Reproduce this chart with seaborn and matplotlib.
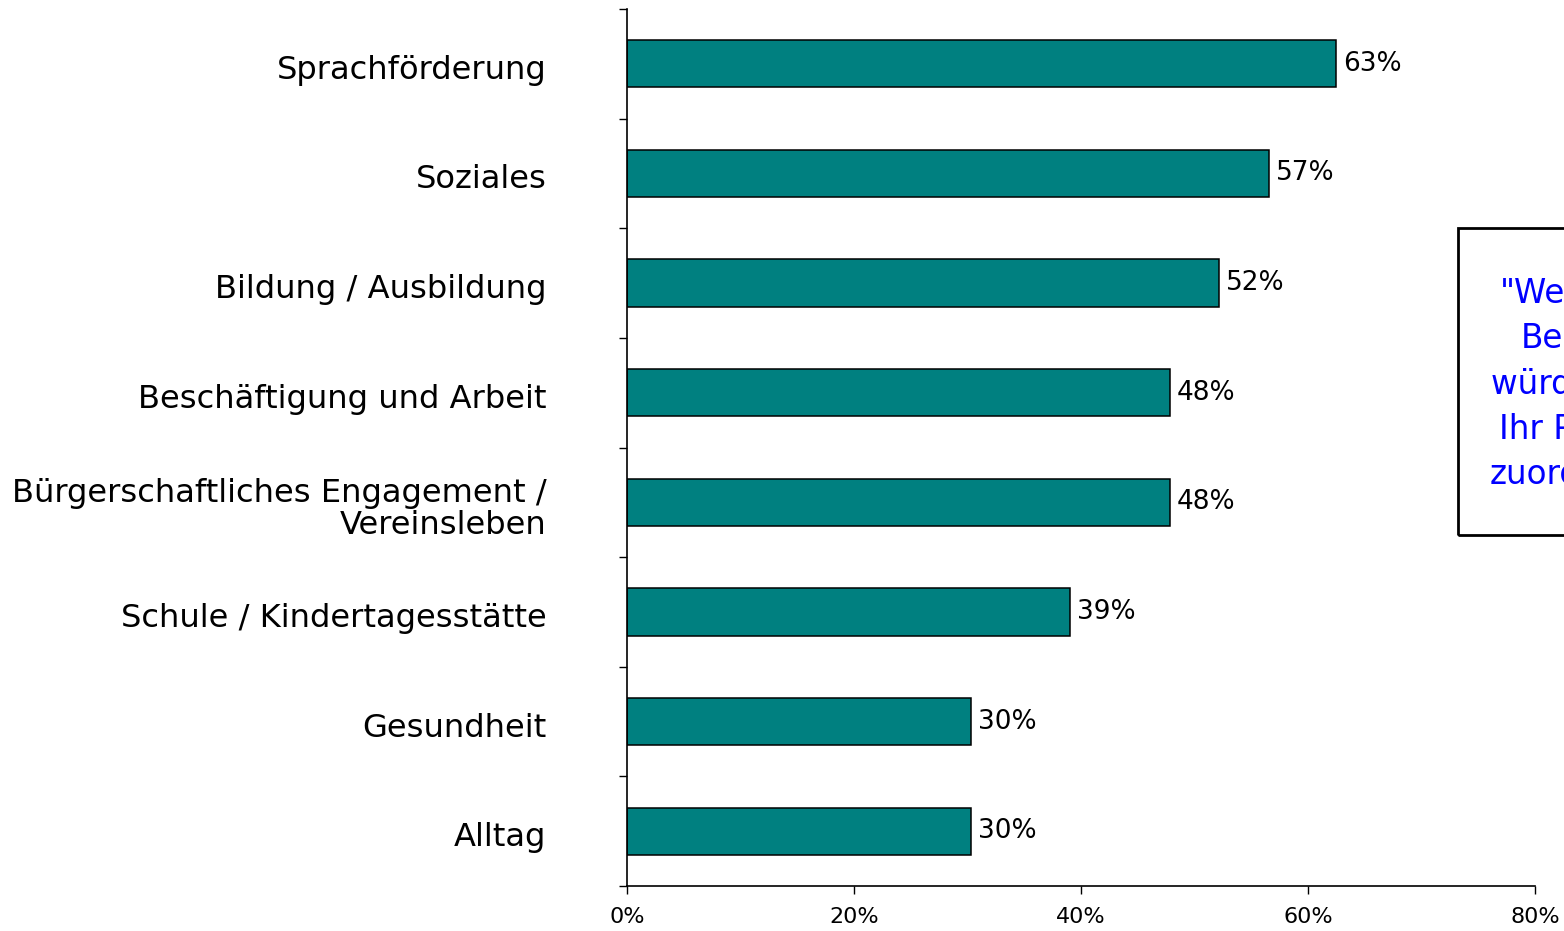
import matplotlib
matplotlib.use("Agg")
import matplotlib.pyplot as plt
import matplotlib.transforms as mtransforms
import seaborn as sns
import pandas as pd
from matplotlib.patches import Rectangle
from matplotlib.ticker import FixedLocator

categories = ["Sprachförderung", "Soziales", "Bildung / Ausbildung",
              "Beschäftigung und Arbeit",
              "Bürgerschaftliches Engagement /\nVereinsleben",
              "Schule / Kindertagesstätte", "Gesundheit", "Alltag"]
values = [62.5, 56.6, 52.2, 47.8, 47.8, 39.0, 30.3, 30.3]
value_labels = ["63%", "57%", "52%", "48%", "48%", "39%", "30%", "30%"]
x_ticks = [0, 20, 40, 60, 80]
x_ticklabels = ["0%", "20%", "40%", "60%", "80%"]
note_text = '"Welchem\nBereich\nwürden Sie\nIhr Projekt\nzuordnen?"'

sns.set_style("white")
plt.rcParams["font.family"] = ["DejaVu Sans"]
plt.rcParams["text.color"] = "black"
plt.rcParams["xtick.color"] = "black"
plt.rcParams["ytick.color"] = "black"

W, H = 1564, 931
fig = plt.figure(figsize=(W / 100, H / 100), dpi=100)
ax = fig.add_axes([627 / W, 45 / H, (1535 - 627) / W, (886 - 9) / H])

df = pd.DataFrame({"cat": categories, "val": values})
sns.barplot(data=df, x="val", y="cat", orient="h", color="#008080",
            saturation=1, width=0.43, edgecolor="black", linewidth=1.1, ax=ax)

ax.set_xlim(0, 80)
ax.set_ylim(len(categories) - 0.5, -0.5)
ax.set_xlabel("")
ax.set_ylabel("")
ax.xaxis.set_major_locator(FixedLocator(x_ticks))
ax.set_xticklabels(x_ticklabels, fontsize=16, color="black")
ax.tick_params(axis="x", which="major", bottom=True, direction="out",
               length=6, width=1, pad=9, colors="black")
ax.set_yticks(range(len(categories)))
ax.set_yticklabels(categories, fontsize=23.1, linespacing=1.05, color="black")
ax.tick_params(axis="y", which="major", left=True, length=0, pad=58)
shift = mtransforms.ScaledTranslation(0, -3 / 100, fig.dpi_scale_trans)
for lbl in ax.get_yticklabels():
    lbl.set_transform(lbl.get_transform() + shift)
ax.yaxis.set_minor_locator(FixedLocator([i - 0.5 for i in range(len(categories) + 1)]))
ax.tick_params(axis="y", which="minor", left=True, direction="out",
               length=6, width=1, colors="black")
for s in ["top", "right"]:
    ax.spines[s].set_visible(False)
for s in ["left", "bottom"]:
    ax.spines[s].set_color("black")
    ax.spines[s].set_linewidth(1.2)

ax.bar_label(ax.containers[0], labels=value_labels, padding=5, fontsize=19,
             color="black")

fig.patches.append(Rectangle((1458 / W, 1 - 535 / H), 244 / W, 307 / H,
                             transform=fig.transFigure, fill=False,
                             edgecolor="black", linewidth=2))
fig.text(1582 / W, 1 - 384 / H, note_text, ha="center", va="center",
         fontsize=23.5, color="#0000FF", linespacing=1.47)

fig.savefig("out.png", dpi=100)
